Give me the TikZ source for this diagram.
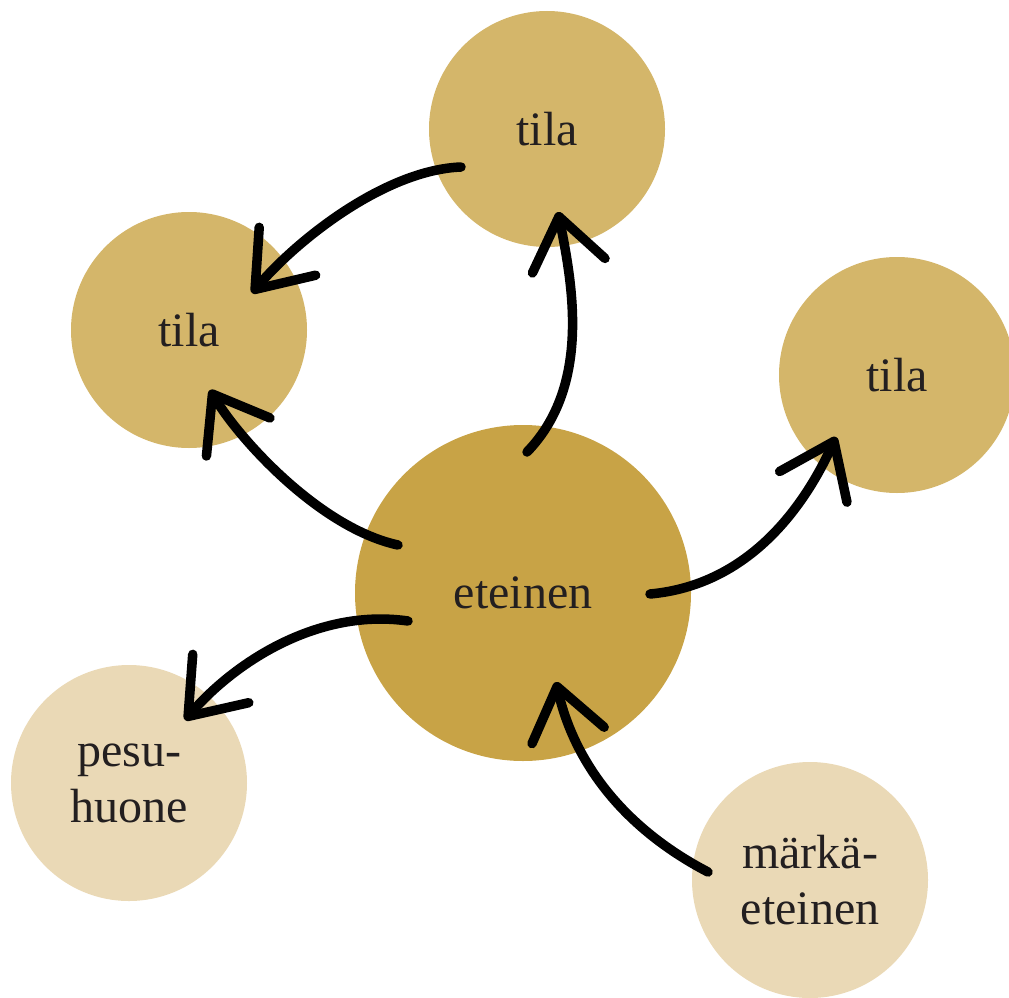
\documentclass[tikz,border=0pt]{standalone}
\usepackage{fontspec}
\setmainfont{Liberation Serif}
\usetikzlibrary{arrows.meta,calc}
\definecolor{tilac}{HTML}{D4B66A}
\definecolor{centc}{HTML}{C8A346}
\definecolor{lightc}{HTML}{EAD9B6}
\definecolor{txtc}{HTML}{231F20}
\tikzset{
  room/.style={circle, inner sep=0pt, minimum size=236pt, text=txtc, align=center,
    font=\fontsize{48pt}{56pt}\selectfont},
  conn/.style={line width=9.5pt, line cap=round, draw=black,
    -{Straight Barb[length=50pt, width=74pt, round]}}
}
\begin{document}
\begin{tikzpicture}[x=1pt, y=-1pt]
\useasboundingbox (0,0) rectangle (1009,998);
% rooms
\node[room, fill=tilac] (T) at (547,129) {tila};
\node[room, fill=tilac] (L) at (189,330) {tila};
\node[room, fill=tilac] (R) at (897,375) {tila};
\node[room, fill=centc, minimum size=336pt] (E) at (523,593) {eteinen};
\node[room, fill=lightc] (P) at (129,783) {pesu-\\huone};
\node[room, fill=lightc] (M) at (810,880) {märkä-\\eteinen};
% connector ends
\coordinate (t1) at ($(T)+(-86,38)$);
\coordinate (l1) at ($(L)+(63,-37)$);
\coordinate (l2) at ($(L)+(21,60)$);
\coordinate (e1) at ($(E)+(-125,-48)$);
\coordinate (e2) at ($(E)+(4,-141)$);
\coordinate (t2) at ($(T)+(11,83)$);
\coordinate (e3) at ($(E)+(127,1)$);
\coordinate (r1) at ($(R)+(-61,62)$);
\coordinate (e4) at ($(E)+(-115,28)$);
\coordinate (p1) at ($(P)+(56,-63)$);
\coordinate (m1) at ($(M)+(-102,-8)$);
\coordinate (e5) at ($(E)+(33,89)$);
% connectors
\draw[conn] (t1) .. controls (385,170) and (297,240) .. (l1);
\draw[conn] (e1) .. controls (320,528) and (240,440) .. (l2);
\draw[conn] (e2) .. controls (592,385) and (572,282) .. (t2);
\draw[conn] (e3) .. controls (750,585) and (805,505) .. (r1);
\draw[conn] (e4) .. controls (318,608) and (235,662) .. (p1);
\draw[conn] (m1) .. controls (618,825) and (573,757) .. (e5);
\end{tikzpicture}
\end{document}
